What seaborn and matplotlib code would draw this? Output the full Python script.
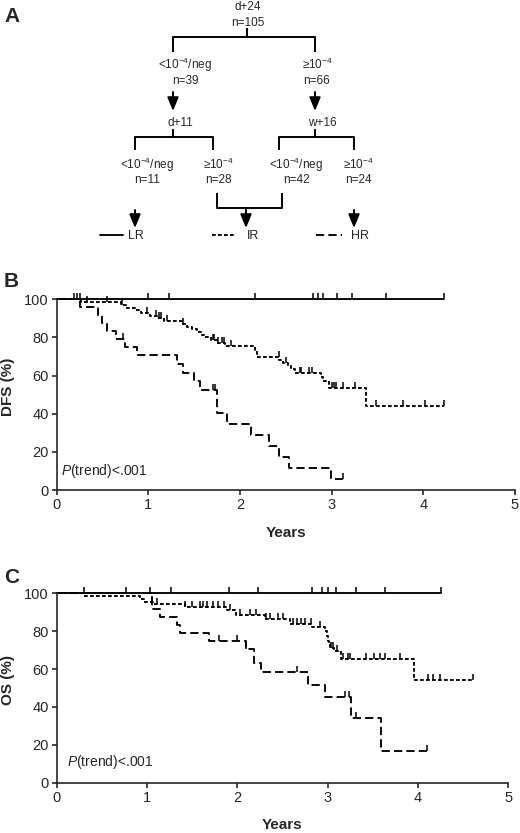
import numpy as np
import pandas as pd
import seaborn as sns
import matplotlib
matplotlib.use("Agg")
import matplotlib.pyplot as plt

# ---- data (years, % surviving) ----
groups = ["LR", "IR", "HR"]

# B: disease free survival
dfs_lr_time = [0.0]
dfs_lr_surv = [100.0]
dfs_lr_end = 4.23
dfs_lr_censor = [0.19, 0.22, 0.25, 1.0, 1.23, 2.16, 2.80, 2.85, 2.90, 3.06, 3.22, 3.59, 4.23]

dfs_ir_time = [0.0, 0.26, 0.70, 0.76, 0.85, 0.92, 1.02, 1.10, 1.17, 1.37, 1.42, 1.48, 1.53,
               1.58, 1.62, 1.68, 1.75, 1.84, 2.16, 2.18, 2.43, 2.47, 2.52, 2.56, 2.60, 2.88,
               2.91, 2.97, 3.37]
dfs_ir_surv = [100.0, 98.6, 97.1, 95.7, 94.3, 92.9, 91.4, 90.0, 88.6, 87.1, 85.7, 84.3, 82.9,
               81.4, 80.0, 78.6, 77.1, 75.7, 72.9, 70.0, 68.4, 66.8, 65.1, 63.5, 61.5, 59.3,
               57.0, 53.7, 44.3]
dfs_ir_end = 4.22
dfs_ir_censor = [0.33, 0.55, 0.71, 0.98, 1.08, 1.12, 1.14, 1.20, 1.38, 1.70, 1.72, 1.76, 1.80,
                 1.82, 1.90, 2.42, 2.50, 2.65, 2.67, 2.75, 2.78, 3.00, 3.02, 3.05, 3.12, 3.25,
                 3.48, 3.78, 4.02, 4.22]

dfs_hr_time = [0.0, 0.25, 0.45, 0.49, 0.55, 0.65, 0.75, 0.88, 1.31, 1.38, 1.50, 1.56, 1.75,
               1.86, 2.12, 2.32, 2.43, 2.53, 2.99]
dfs_hr_surv = [100.0, 95.8, 91.7, 87.5, 83.3, 79.2, 75.0, 70.8, 66.2, 61.4, 57.0, 52.3, 40.6,
               34.8, 29.0, 23.2, 17.4, 11.6, 5.8]
dfs_hr_end = 3.12
dfs_hr_censor = [0.72, 1.70, 1.73, 3.12]

# C: overall survival
os_lr_time = [0.0]
os_lr_surv = [100.0]
os_lr_end = 4.26
os_lr_censor = [0.30, 0.77, 1.03, 1.26, 1.91, 2.23, 2.83, 2.94, 3.00, 3.09, 3.31, 3.64, 4.26]

os_ir_time = [0.0, 0.30, 0.92, 0.97, 1.07, 1.42, 1.88, 1.98, 2.31, 2.58, 2.83, 2.97, 2.99,
              3.00, 3.01, 3.03, 3.07, 3.15, 3.96]
os_ir_surv = [100.0, 98.6, 97.1, 95.6, 94.2, 92.7, 91.0, 88.7, 86.6, 84.0, 82.0, 80.0, 77.5,
              75.0, 73.0, 71.0, 69.5, 65.3, 54.2]
os_ir_end = 4.62
os_ir_censor = [1.05, 1.11, 1.42, 1.50, 1.59, 1.62, 1.66, 1.73, 1.79, 1.85, 1.92, 2.03, 2.14,
                2.21, 2.32, 2.36, 2.45, 2.51, 2.62, 2.66, 2.71, 2.75, 2.82, 2.92, 3.04, 3.06,
                3.10, 3.17, 3.23, 3.25, 3.43, 3.51, 3.58, 3.63, 3.80, 4.11, 4.17, 4.24, 4.61]

os_hr_time = [0.0, 1.05, 1.06, 1.14, 1.33, 1.36, 1.69, 2.10, 2.18, 2.26, 2.78, 2.97, 3.26, 3.59]
os_hr_surv = [100.0, 95.8, 91.7, 87.5, 83.3, 79.2, 75.0, 70.8, 63.0, 58.3, 51.8, 45.3, 34.0, 17.0]
os_hr_end = 4.10
os_hr_censor = [1.80, 2.00, 2.10, 2.66, 3.19, 3.24, 3.31, 4.10]

# A: tree labels
tree_top = ["d+24", "n=105"]
tree_mid = [r"<10$^{-4}$/neg", "n=39", r"≥10$^{-4}$", "n=66"]
tree_steps = ["d+11", "w+16"]
tree_low = [r"<10$^{-4}$/neg", "n=11", r"≥10$^{-4}$", "n=28",
            r"<10$^{-4}$/neg", "n=42", r"≥10$^{-4}$", "n=24"]

sns.set_style("ticks")
plt.rcParams["font.family"] = ["Liberation Sans", "DejaVu Sans"]
plt.rcParams["mathtext.fontset"] = "custom"
plt.rcParams["mathtext.rm"] = "Liberation Sans"
plt.rcParams["mathtext.it"] = "Liberation Sans:italic"
plt.rcParams["axes.linewidth"] = 1.2

LW = 1.35
dash_map = {"LR": "", "IR": (2.0, 1.2), "HR": (4.4, 2.2)}

fig = plt.figure(figsize=(5.2, 8.33), dpi=100)

# ---------------- panel A (tree, pixel coords) ----------------
axA = fig.add_axes([0, 1 - 250 / 833, 1, 250 / 833])
axA.set_xlim(0, 520)
axA.set_ylim(250, 0)
axA.axis("off")
tk = dict(color="black", lw=1.4, solid_capstyle="butt")
fs_t = 8.5
tb = dict(ha="center", va="baseline", fontsize=fs_t)

axA.text(248, 9.5, tree_top[0], **tb)
axA.text(248, 26, tree_top[1], **tb)
axA.plot([247, 247], [28, 37], **tk)
axA.plot([173, 173, 315, 315], [52, 37, 37, 52], **tk)
axA.text(185, 69, tree_mid[0], **tb)
axA.text(185, 84, tree_mid[1], **tb)
axA.text(317, 69, tree_mid[2], **tb)
axA.text(317, 84, tree_mid[3], **tb)

arr = dict(arrowstyle="-|>,head_length=0.58,head_width=0.24", color="black", lw=1.4,
           shrinkA=0, shrinkB=0, mutation_scale=14)
for xa, y0, y1 in [(173, 92, 111), (315, 92, 111), (135, 210, 228), (246, 208, 228), (354, 210, 228)]:
    axA.annotate("", xy=(xa, y1), xytext=(xa, y0), arrowprops=arr)

axA.text(180, 126, tree_steps[0], **tb)
axA.text(322, 126, tree_steps[1], **tb)
axA.plot([173, 173], [129, 137], **tk)
axA.plot([135, 135, 213, 213], [150, 137, 137, 150], **tk)
axA.plot([315, 315], [129, 137], **tk)
axA.plot([279, 279, 354, 354], [150, 137, 137, 150], **tk)

low_x = [147, 218, 296, 358]
for i, xl in enumerate(low_x):
    axA.text(xl, 169, tree_low[2 * i], **tb)
    axA.text(xl, 183, tree_low[2 * i + 1], **tb)
axA.plot([217, 217, 282, 282], [193, 208, 208, 193], **tk)

leg_pos = {"LR": (100, 123, 128), "IR": (212, 236, 247), "HR": (316, 342, 351)}
for g in groups:
    x0, x1, xt = leg_pos[g]
    ln, = axA.plot([x0, x1], [235, 235], color="black", lw=LW)
    ln.set_dashes(dash_map[g])
    axA.text(xt, 239, g, ha="left", va="baseline", fontsize=9)


# ---------------- KM panels ----------------
def km_panel(ax, curves, ylabel, ypos_label):
    rows = []
    cx, cy = [], []
    for g, (t, s, end, cens) in zip(groups, curves):
        tt = list(t) + [end]
        ss = list(s) + [s[-1]]
        for a, b in zip(tt, ss):
            rows.append({"group": g, "time": a, "surv": b})
        idx = np.searchsorted(np.array(t), np.array(cens), side="right") - 1
        cx += list(cens)
        cy += list(np.array(s)[idx])
    df = pd.DataFrame(rows)
    sns.lineplot(data=df, x="time", y="surv", style="group", dashes=dash_map,
                 color="black", linewidth=LW, drawstyle="steps-post", estimator=None,
                 sort=False, legend=False, ax=ax, clip_on=False)
    sns.scatterplot(x=cx, y=cy, marker=2, color="black", s=18, linewidth=1.1,
                    ax=ax, clip_on=False, legend=False)
    ax.set_xlim(0, 5)
    ax.set_ylim(0, 100)
    ax.set_xticks(range(0, 6))
    ax.set_yticks(range(0, 101, 20))
    ax.tick_params(labelsize=10.5, width=1.2, length=3.8, pad=2)
    sns.despine(ax=ax)
    ax.set_ylabel(ylabel, fontsize=11, fontweight="bold")
    ax.yaxis.set_label_coords(-0.092, 0.54)
    ax.set_xlabel("Years", fontsize=11, fontweight="bold", va="top")
    ax.xaxis.set_label_coords(0.5, ypos_label)


axB = fig.add_axes([56.7 / 520, 1 - 490 / 833, 458.3 / 520, 190.7 / 833])
km_panel(axB, [(dfs_lr_time, dfs_lr_surv, dfs_lr_end, dfs_lr_censor),
               (dfs_ir_time, dfs_ir_surv, dfs_ir_end, dfs_ir_censor),
               (dfs_hr_time, dfs_hr_surv, dfs_hr_end, dfs_hr_censor)],
         "DFS (%)", -0.19)
axB.text(0.05, 10, r"$P$(trend)<.001", fontsize=10, ha="left", va="center")

axC = fig.add_axes([56.7 / 520, 1 - 782.7 / 833, 451.6 / 520, 189.4 / 833])
km_panel(axC, [(os_lr_time, os_lr_surv, os_lr_end, os_lr_censor),
               (os_ir_time, os_ir_surv, os_ir_end, os_ir_censor),
               (os_hr_time, os_hr_surv, os_hr_end, os_hr_censor)],
         "OS (%)", -0.188)
axC.text(0.11, 11, r"$P$(trend)<.001", fontsize=10, ha="left", va="center")

for lab, ytop in [("A", 22), ("B", 287), ("C", 583)]:
    fig.text(4 / 520, 1 - ytop / 833, lab, fontsize=15, fontweight="bold",
             ha="left", va="baseline")

fig.savefig("out.png", dpi=100)
